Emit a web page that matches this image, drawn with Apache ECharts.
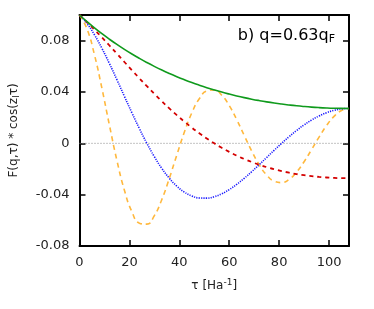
<!DOCTYPE html>
<html>
<head>
<meta charset="utf-8">
<script src="https://cdn.jsdelivr.net/npm/echarts@6/dist/echarts.min.js"></script>
<style>html,body{margin:0;padding:0;background:#fff}#c{width:374px;height:309px}</style>
</head>
<body>
<div id="c"></div>
<script>
var tau = [0,3,6,9,12,15,18,21,24,27,30,33,36,39,42,45,48,51,54,57,60,63,66,69,72,75,78,81,84,87,90,93,96,99,102,105,108];
var greenF = [0.1,0.09487,0.09001,0.08543,0.08112,0.07705,0.0732,0.06958,0.06617,0.06296,0.05994,0.05709,0.05442,0.05191,0.04956,0.04736,0.04531,0.04338,0.04159,0.03992,0.03838,0.03695,0.03563,0.03442,0.03332,0.03231,0.0314,0.03059,0.02987,0.02923,0.02869,0.02823,0.02786,0.02757,0.02736,0.02724,0.0272];
var blueF = [0.1,0.09343,0.08458,0.07398,0.06214,0.04953,0.0366,0.0238,0.01149,0,-0.01041,-0.01952,-0.02721,-0.03337,-0.03796,-0.04101,-0.04258,-0.04272,-0.04159,-0.03931,-0.03607,-0.032,-0.02729,-0.02213,-0.01666,-0.01105,-0.00545,0,0.00519,0.01,0.01435,0.01815,0.02134,0.02388,0.02571,0.02683,0.0272];
var redF = [0.1,0.09451,0.08864,0.08252,0.07623,0.06983,0.06339,0.057,0.05069,0.04452,0.03853,0.03275,0.02721,0.02194,0.01695,0.01226,0.00787,0.00378,0,-0.00348,-0.00666,-0.00956,-0.01219,-0.01455,-0.01666,-0.01853,-0.02018,-0.02163,-0.02288,-0.02395,-0.02485,-0.02558,-0.02618,-0.02663,-0.02694,-0.02714,-0.0272];
var orangeF = [0.1,0.08915,0.06895,0.04272,0.01408,-0.01338,-0.0366,-0.0533,-0.06218,-0.06296,-0.05633,-0.04373,-0.02721,-0.00901,0.0086,0.02368,0.03471,0.04076,0.04159,0.03751,0.0294,0.01848,0.00619,-0.00598,-0.01666,-0.02475,-0.02951,-0.03059,-0.02807,-0.02239,-0.01435,-0.0049,0.00484,0.01379,0.02096,0.0256,0.0272];
var zeroLine = [[0,0],[108,0]];
var xTicks = [0,20,40,60,80,100];
var yTicks = ['-0.08','-0.04','0','0.04','0.08'];

function pairs(ys){ return tau.map(function(t,i){return [t, ys[i]];}); }
function yFmt(v){
  var r = Math.round(v*100)/100;
  for (var i=0;i<yTicks.length;i++){ if (Math.abs(parseFloat(yTicks[i])-r)<1e-9) return yTicks[i]; }
  return '';
}
var font = 'DejaVu Sans';
var chart = echarts.init(document.getElementById('c'), null, {renderer:'canvas'});
var axLine = {show:true, onZero:false, lineStyle:{color:'#000', width:2}};
var tick = {show:true, inside:true, length:6, lineStyle:{color:'#000', width:1.5}};
chart.setOption({
  animation:false,
  backgroundColor:'#fff',
  grid:{left:77, right:25, top:15, bottom:63, containLabel:false},
  title:{
    text:'{a|b) q=0.63q}{s|F}',
    right:34, top:21,
    textStyle:{fontWeight:'normal', rich:{
      a:{fontFamily:font, fontSize:16, fontWeight:'normal', color:'#000'},
      s:{fontFamily:font, fontSize:11, fontWeight:'normal', color:'#000', padding:[8,0,0,0]}
    }}
  },
  xAxis:[{
    type:'value', min:0, max:108, interval:20,
    axisLine:axLine, axisTick:tick,
    axisLabel:{fontFamily:font, fontSize:13, color:'#222', margin:10, showMaxLabel:false,
      formatter:function(v){return xTicks.indexOf(v)>=0? String(v):'';}},
    splitLine:{show:false},
    name:'{a|τ [Ha}{s|-1}{a|]}', nameLocation:'middle', nameGap:32,
    nameTextStyle:{rich:{
      a:{fontFamily:font, fontSize:12, color:'#222'},
      s:{fontFamily:font, fontSize:9, color:'#222', padding:[0,0,7,0]}
    }}
  },{
    type:'value', position:'top', min:0, max:108, interval:20,
    axisLine:axLine, axisTick:tick,
    axisLabel:{show:false}, splitLine:{show:false}
  }],
  yAxis:[{
    type:'value', min:-0.08, max:0.1, interval:0.04,
    axisLine:axLine, axisTick:tick,
    axisLabel:{fontFamily:font, fontSize:13, color:'#222', margin:10, showMaxLabel:false, formatter:yFmt},
    splitLine:{show:false},
    name:'{a|F(q,τ) * cos(z}{s|l}{a|τ)}', nameLocation:'middle', nameGap:58,
    nameTextStyle:{rich:{
      a:{fontFamily:font, fontSize:12, color:'#222'},
      s:{fontFamily:font, fontSize:9, color:'#222', padding:[6,0,0,0]}
    }}
  },{
    type:'value', position:'right', min:-0.08, max:0.1, interval:0.04,
    axisLine:axLine, axisTick:tick,
    axisLabel:{show:false}, splitLine:{show:false}
  }],
  series:[
    {type:'line', data:zeroLine, showSymbol:false, symbol:'none', silent:true,
      lineStyle:{color:'#888', width:1, type:[1,2]}},
    {type:'line', data:pairs(orangeF), smooth:true, symbol:'none',
      lineStyle:{color:'#ffb83d', width:1.6, type:[5,4]}},
    {type:'line', data:pairs(blueF), smooth:true, symbol:'none',
      lineStyle:{color:'#1a1aff', width:1.6, type:[1.2,1.2]}},
    {type:'line', data:pairs(redF), smooth:true, symbol:'none',
      lineStyle:{color:'#d40000', width:1.8, type:[4,4]}},
    {type:'line', data:pairs(greenF), smooth:true, symbol:'none',
      lineStyle:{color:'#0f9a1c', width:1.6}}
  ]
});
</script>
</body>
</html>
